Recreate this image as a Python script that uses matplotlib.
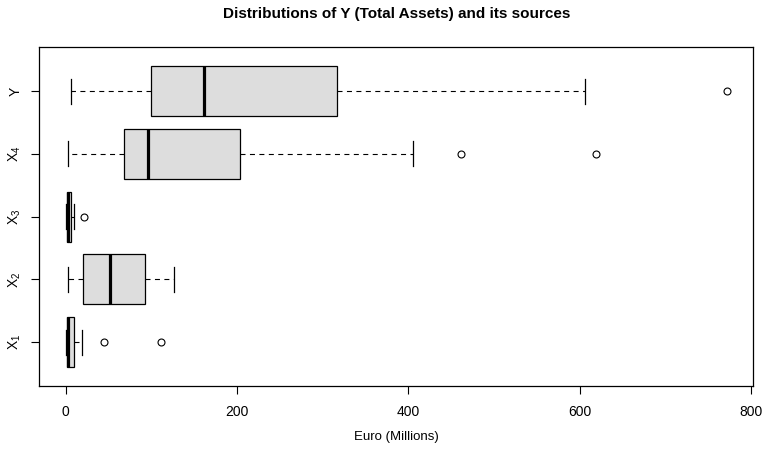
import matplotlib
matplotlib.use("Agg")
import matplotlib.pyplot as plt

plt.rcParams["font.family"] = ["Liberation Sans", "DejaVu Sans"]

# summary statistics (Euro, millions)
labels = ["X_1", "X_2", "X_3", "X_4", "Y"]
whislo = [0.0, 2.0, 0.0, 2.7, 6.2]
q1 = [0.8, 19.9, 0.8, 68.1, 98.9]
med = [2.3, 51.0, 2.7, 95.4, 160.8]
q3 = [9.7, 91.9, 5.5, 203.3, 317.0]
whishi = [19.0, 126.2, 10.1, 405.0, 606.7]
fliers = [[44.8, 110.6], [], [21.4], [461.8, 618.8], [772.6]]

stats = []
for i in range(len(labels)):
    stats.append(dict(label=labels[i], whislo=whislo[i], q1=q1[i], med=med[i],
                      q3=q3[i], whishi=whishi[i], fliers=fliers[i]))

fig = plt.figure(figsize=(7.62, 4.53), dpi=100)
ax = fig.add_axes([39.3 / 762, 1 - 386 / 453, (753.3 - 39.3) / 762, (386 - 47.3) / 453])

ax.bxp(stats, positions=range(1, 6), vert=False, widths=0.8, patch_artist=True,
       boxprops=dict(facecolor="#DDDDDD", edgecolor="black", linewidth=0.9),
       medianprops=dict(color="black", linewidth=2.3, solid_capstyle="butt"),
       whiskerprops=dict(color="black", linewidth=0.8, linestyle=(0, (4.5, 4))),
       capprops=dict(color="black", linewidth=0.9),
       capwidths=0.4,
       flierprops=dict(marker="o", markerfacecolor="none", markeredgecolor="black",
                       markersize=5, markeredgewidth=0.8))

ax.set_xlim(-31, 803)
ax.set_ylim(0.3, 5.7)
ax.set_xticks([0, 200, 400, 600, 800])
ax.set_yticks(range(1, 6))
ax.set_yticklabels([r"$\mathregular{X_1}$", r"$\mathregular{X_2}$", r"$\mathregular{X_3}$",
                    r"$\mathregular{X_4}$", "Y"], rotation=90, va="center")
ax.tick_params(axis="both", direction="out", length=5.5, width=0.8, labelsize=10)
ax.tick_params(axis="x", pad=8)
ax.tick_params(axis="y", pad=6.5)
for s in ax.spines.values():
    s.set_linewidth(0.9)

xc = (39.3 + 753.3) / 2 / 762
fig.text(xc, 1 - 14 / 453, "Distributions of Y (Total Assets) and its sources",
         ha="center", va="center", fontsize=11, fontweight="bold")
fig.text(xc, 1 - 437 / 453, "Euro (Millions)", ha="center", va="center", fontsize=9.5)

fig.savefig("out.png", dpi=100)
